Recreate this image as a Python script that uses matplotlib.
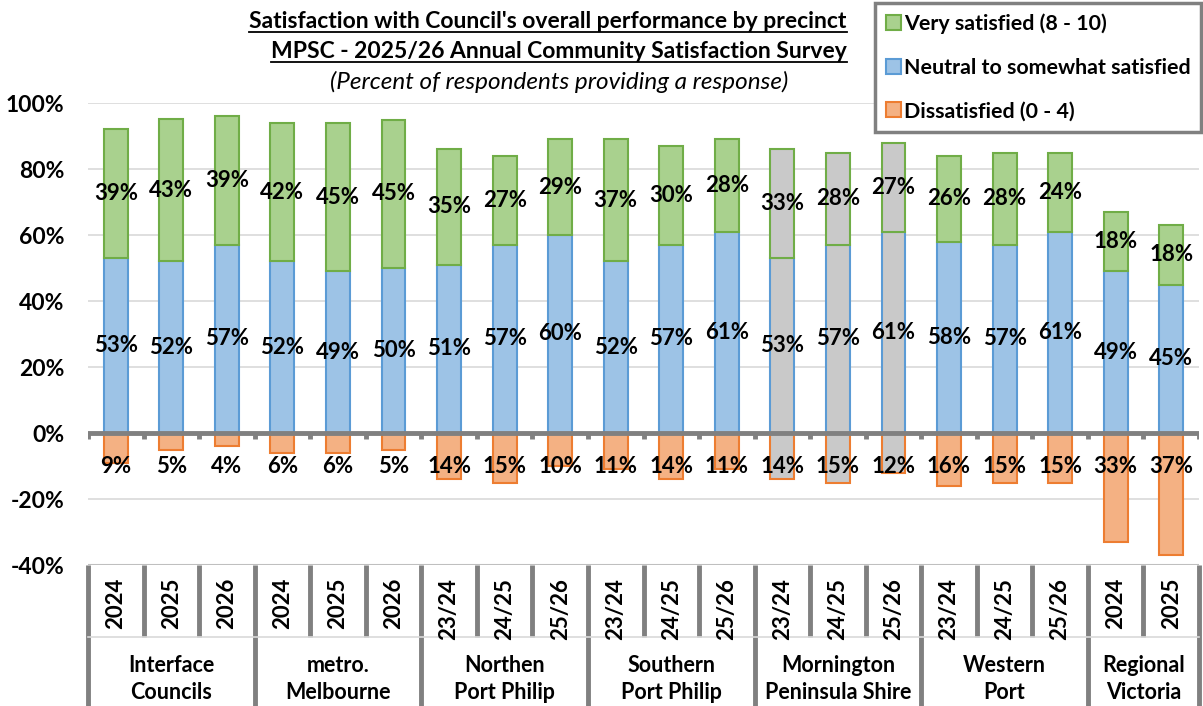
import matplotlib
matplotlib.use("Agg")
import matplotlib.pyplot as plt
from matplotlib.patches import Patch
from matplotlib.lines import Line2D
import numpy as np

plt.rcParams['font.family'] = ['Lato', 'DejaVu Sans']

# data
groups = ["Interface\nCouncils", "metro.\nMelbourne", "Northen\nPort Philip",
          "Southern\nPort Philip", "Mornington\nPeninsula Shire", "Western\nPort",
          "Regional\nVictoria"]
group_sizes = [3, 3, 3, 3, 3, 3, 2]
periods = ["2024", "2025", "2026", "2024", "2025", "2026",
           "23/24", "24/25", "25/26", "23/24", "24/25", "25/26",
           "23/24", "24/25", "25/26", "23/24", "24/25", "25/26",
           "2024", "2025"]
very_satisfied = [39, 43, 39, 42, 45, 45, 35, 27, 29, 37, 30, 28, 33, 28, 27, 26, 28, 24, 18, 18]
neutral = [53, 52, 57, 52, 49, 50, 51, 57, 60, 52, 57, 61, 53, 57, 61, 58, 57, 61, 49, 45]
dissatisfied = [9, 5, 4, 6, 6, 5, 14, 15, 10, 11, 14, 11, 14, 15, 12, 16, 15, 15, 33, 37]
highlight = "Mornington\nPeninsula Shire"

GREEN, GREEN_E = "#A9D18E", "#70AD47"
BLUE, BLUE_E = "#9DC3E6", "#5B9BD5"
ORANGE, ORANGE_E = "#F4B183", "#ED7D31"
GREY = "#C9C9C9"
AXIS = "#808080"
FS = 16

W, H = 1203, 706
fig = plt.figure(figsize=(W / 100, H / 100), dpi=100)
ax = fig.add_axes([88 / W, 1 - 565 / H, 1111 / W, 462 / H])

n = len(periods)
x = np.arange(n)
group_of = np.repeat(np.arange(len(groups)), group_sizes)
is_hl = np.array([groups[g] == highlight for g in group_of])

green_fc = [GREY if h else GREEN for h in is_hl]
blue_fc = [GREY if h else BLUE for h in is_hl]
orange_fc = [GREY if h else ORANGE for h in is_hl]

bw = 0.43
vs = np.array(very_satisfied)
nu = np.array(neutral)
ds = np.array(dissatisfied)
ax.bar(x, nu, bw, color=blue_fc, edgecolor=BLUE_E, linewidth=1.5, zorder=2)
ax.bar(x, vs, bw, bottom=nu, color=green_fc, edgecolor=GREEN_E, linewidth=1.5, zorder=2)
ax.bar(x, -ds, bw, color=orange_fc, edgecolor=ORANGE_E, linewidth=1.5, zorder=2)

lab = dict(ha="center", va="center", fontsize=FS, fontweight="bold", zorder=5)
for i in range(n):
    ax.text(x[i], nu[i] + vs[i] / 2, f"{vs[i]}%", **lab)
    ax.text(x[i], nu[i] / 2, f"{nu[i]}%", **lab)
    ax.text(x[i], -10.3, f"{ds[i]}%", **lab)

ax.set_xlim(-0.5, n - 0.5)
ax.set_ylim(-40, 100)
ax.set_yticks(np.arange(-40, 101, 20))
ax.set_yticklabels([f"{v}%" for v in range(-40, 101, 20)], fontsize=16.5, fontweight="bold")
ax.tick_params(axis="y", length=0, pad=17)
ax.set_xticks([])
for s in ax.spines.values():
    s.set_visible(False)
for v in range(-20, 101, 20):
    if v != 0:
        ax.axhline(v, color="#D9D9D9", lw=1.2, zorder=0)
ax.axhline(-40, color="#BFBFBF", lw=1.5, zorder=0)

# category axis line with tick marks
bounds = np.arange(-0.5, n, 1.0)
ax.axhline(0, color=AXIS, lw=3.5, zorder=4)
ax.vlines(bounds, -1.7, 0, color=AXIS, lw=3.5, zorder=4)

# two-level category table under the plot
tr = ax.get_xaxis_transform()
y_mid = -72 / 462
y_bot = -141 / 462
starts = np.concatenate([[0], np.cumsum(group_sizes)])
for b in bounds:
    is_group = (b + 0.5) in starts
    ax.plot([b, b], [0, y_bot if is_group else y_mid], transform=tr, color=AXIS,
            lw=3.5, clip_on=False, solid_capstyle="butt")
ax.plot([-0.5, n - 0.5], [y_mid, y_mid], transform=tr, color="#D9D9D9", lw=1.2, clip_on=False)
for i, p in enumerate(periods):
    ax.text(x[i], -13 / 462, p, transform=tr, rotation=90, ha="center", va="top",
            fontsize=FS, fontweight="bold")
for g, name in enumerate(groups):
    cx = (starts[g] + starts[g + 1] - 1) / 2
    ax.text(cx, -114 / 462, name, transform=tr, ha="center", va="center",
            fontsize=15.5, fontweight="bold", linespacing=1.3)

# titles
t1 = fig.text(548 / W, 1 - 22 / H, "Satisfaction with Council's overall performance by precinct",
              ha="center", va="center", fontsize=16.5, fontweight="bold")
t2 = fig.text(559 / W, 1 - 52 / H, "MPSC - 2025/26 Annual Community Satisfaction Survey",
              ha="center", va="center", fontsize=16.5, fontweight="bold")
fig.text(559 / W, 1 - 82 / H, "(Percent of respondents providing a response)",
         ha="center", va="center", fontsize=17.5, style="italic")

handles = [Patch(facecolor=GREEN, edgecolor=GREEN_E, lw=1.5),
           Patch(facecolor=BLUE, edgecolor=BLUE_E, lw=1.5),
           Patch(facecolor=ORANGE, edgecolor=ORANGE_E, lw=1.5)]
leg = fig.legend(handles, ["Very satisfied (8 - 10)", "Neutral to somewhat satisfied",
                           "Dissatisfied (0 - 4)"],
                 loc="upper right", bbox_to_anchor=(1201 / W, 1 - 3 / H), borderaxespad=0,
                 prop={"size": 15.4, "weight": "bold"}, fancybox=False, framealpha=1,
                 edgecolor=AXIS, handlelength=0.7, handleheight=0.7, handletextpad=0.12,
                 labelspacing=1.1, borderpad=0.5)
leg.get_frame().set_linewidth(2.5)

# underline the two bold title lines
fig.canvas.draw()
r = fig.canvas.get_renderer()
for t in (t1, t2):
    bb = t.get_window_extent(r)
    y = (bb.y0 + 1) / H
    fig.add_artist(Line2D([bb.x0 / W, bb.x1 / W], [y, y], color="black", lw=1.3))

fig.savefig("out.png", dpi=100)
